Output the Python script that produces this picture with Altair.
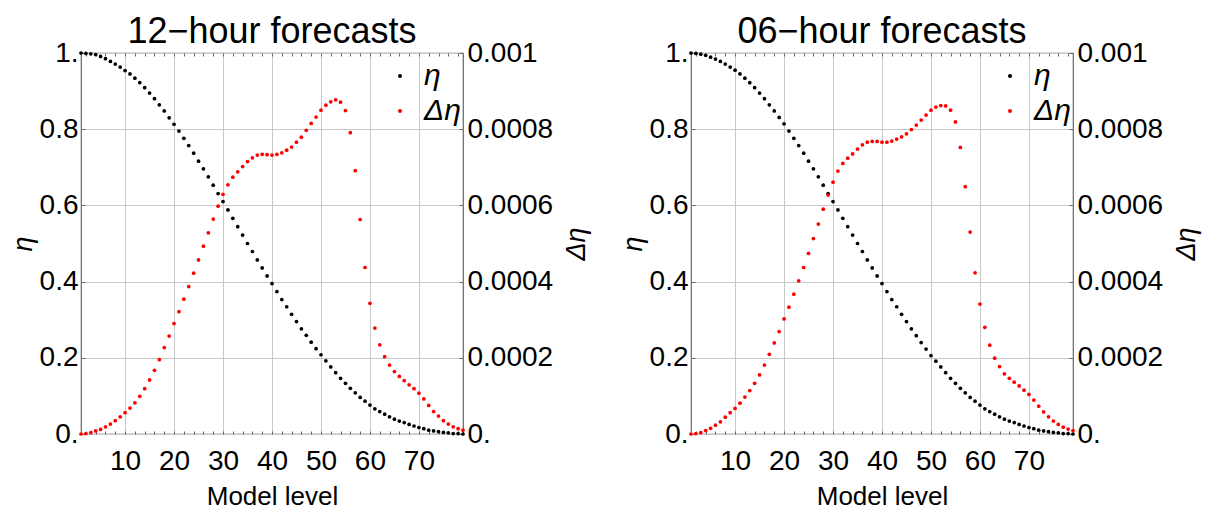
import altair as alt
import pandas as pd

levels = list(range(1, 80))

eta12 = [1.000, 0.999, 0.998, 0.996, 0.991, 0.985, 0.978, 0.971, 0.963, 0.954,
         0.945, 0.934, 0.922, 0.909, 0.895, 0.880, 0.864, 0.848, 0.830, 0.813,
         0.795, 0.776, 0.757, 0.737, 0.716, 0.696, 0.675, 0.653, 0.631, 0.610,
         0.588, 0.566, 0.544, 0.522, 0.500, 0.479, 0.457, 0.436, 0.415, 0.395,
         0.374, 0.353, 0.334, 0.314, 0.295, 0.276, 0.259, 0.241, 0.224, 0.208,
         0.192, 0.176, 0.161, 0.146, 0.133, 0.120, 0.108, 0.096, 0.086, 0.076,
         0.066, 0.059, 0.052, 0.045, 0.039, 0.034, 0.030, 0.025, 0.021, 0.017,
         0.014, 0.010, 0.008, 0.006, 0.004, 0.003, 0.001, 0.001, 0.000]

# Delta eta, in units of 1e-4
deta12_e4 = [0.00, 0.01, 0.035, 0.08, 0.12, 0.19, 0.26, 0.35, 0.45, 0.56,
             0.68, 0.82, 0.99, 1.19, 1.42, 1.67, 1.95, 2.27, 2.57, 2.90,
             3.21, 3.54, 3.87, 4.22, 4.57, 4.93, 5.28, 5.64, 5.98, 6.29,
             6.54, 6.74, 6.88, 7.02, 7.15, 7.25, 7.32, 7.34, 7.33, 7.32,
             7.34, 7.38, 7.45, 7.53, 7.66, 7.79, 7.97, 8.15, 8.32, 8.50,
             8.63, 8.72, 8.77, 8.71, 8.49, 7.91, 6.91, 5.63, 4.37, 3.43,
             2.78, 2.34, 2.03, 1.81, 1.64, 1.51, 1.40, 1.29, 1.19, 1.07,
             0.92, 0.75, 0.59, 0.47, 0.35, 0.26, 0.19, 0.14, 0.10]

eta06 = [1.000, 0.999, 0.997, 0.994, 0.989, 0.984, 0.978, 0.971, 0.963, 0.955,
         0.945, 0.934, 0.922, 0.909, 0.895, 0.880, 0.864, 0.848, 0.831, 0.814,
         0.795, 0.776, 0.757, 0.737, 0.716, 0.696, 0.675, 0.653, 0.631, 0.610,
         0.588, 0.566, 0.544, 0.522, 0.500, 0.479, 0.457, 0.436, 0.415, 0.395,
         0.374, 0.353, 0.334, 0.314, 0.295, 0.276, 0.258, 0.240, 0.223, 0.206,
         0.191, 0.176, 0.161, 0.146, 0.133, 0.120, 0.108, 0.096, 0.086, 0.076,
         0.066, 0.059, 0.052, 0.045, 0.039, 0.034, 0.030, 0.025, 0.021, 0.017,
         0.014, 0.010, 0.008, 0.006, 0.004, 0.003, 0.001, 0.001, 0.000]

deta06_e4 = [0.00, 0.01, 0.035, 0.09, 0.15, 0.23, 0.32, 0.44, 0.56, 0.67,
             0.81, 0.97, 1.14, 1.33, 1.55, 1.81, 2.09, 2.39, 2.69, 3.02,
             3.33, 3.67, 4.02, 4.37, 4.74, 5.13, 5.51, 5.90, 6.27, 6.61,
             6.90, 7.10, 7.24, 7.35, 7.48, 7.59, 7.66, 7.68, 7.68, 7.66,
             7.66, 7.69, 7.74, 7.80, 7.88, 7.99, 8.11, 8.24, 8.37, 8.50,
             8.58, 8.62, 8.61, 8.50, 8.19, 7.52, 6.49, 5.30, 4.23, 3.41,
             2.80, 2.33, 1.99, 1.77, 1.58, 1.46, 1.36, 1.26, 1.15, 1.04,
             0.89, 0.73, 0.58, 0.45, 0.34, 0.25, 0.18, 0.13, 0.09]

titles = ["12\u2212hour forecasts", "06\u2212hour forecasts"]
series_names = ["\u03b7", "\u0394\u03b7"]
series_colors = ["#000000", "#ff0000"]
x_tick_values = list(range(2, 79, 2))
y_left_values = [0, 0.2, 0.4, 0.6, 0.8, 1.0]
y_right_values = [0, 0.0002, 0.0004, 0.0006, 0.0008, 0.001]

FONT = "Liberation Sans"
FRAME = "#666666"
LABEL_FS = 28


def panel(title, eta, deta_e4):
    d_eta = pd.DataFrame({"level": levels, "value": eta, "series": series_names[0]})
    d_deta = pd.DataFrame({"level": levels, "value": [v * 1e-4 for v in deta_e4],
                           "series": series_names[1]})
    color = alt.Color("series:N",
                      scale=alt.Scale(domain=series_names, range=series_colors),
                      legend=alt.Legend(title=None, orient="none", legendX=304, legendY=8,
                                        symbolType="circle", symbolSize=16,
                                        labelFontSize=30, labelFont=FONT,
                                        labelFontStyle="italic", labelColor="black",
                                        rowPadding=5, labelOffset=9))
    xscale = alt.Scale(domain=[1, 79], nice=False, zero=False)
    black = alt.Chart(d_eta).mark_circle(size=14, opacity=1).encode(
        x=alt.X("level:Q", scale=xscale,
                axis=alt.Axis(orient="bottom", values=x_tick_values, title="Model level",
                              labelExpr="datum.value % 10 === 0 ? datum.label : ''",
                              grid=True, gridColor="#c8c8c8",
                              gridOpacity={"condition": {"test": "datum.value % 10 !== 0", "value": 0}, "value": 1},
                              tickSize={"expr": "-3"}, tickColor=FRAME, domain=False,
                              labelFontSize=LABEL_FS, labelFont=FONT, labelColor="black",
                              labelPadding=16, labelFlush=False, labelOverlap=False,
                              titleFontSize=26, titleFont=FONT, titleFontWeight="normal",
                              titleColor="black", titlePadding=8)),
        y=alt.Y("value:Q", scale=alt.Scale(domain=[0, 1], nice=False),
                axis=alt.Axis(orient="left", values=y_left_values, title="\u03b7",
                              labelExpr="datum.value == 0 ? '0.' : datum.value == 1 ? '1.' : format(datum.value, '.1f')",
                              grid=True, gridColor="#c8c8c8",
                              tickSize={"expr": "-4"}, tickColor=FRAME, domain=False,
                              labelFontSize=LABEL_FS, labelFont=FONT, labelColor="black",
                              labelPadding=7, labelFlush=False, labelOverlap=False,
                              titleFontSize=27, titleFont=FONT, titleFontWeight="normal",
                              titleFontStyle="italic", titleColor="black", titlePadding=2)),
        color=color,
    )
    red = alt.Chart(d_deta).mark_circle(size=14, opacity=1).encode(
        x=alt.X("level:Q", scale=xscale,
                axis=alt.Axis(orient="top", values=x_tick_values, title=None, labels=False,
                              grid=False, tickSize={"expr": "-3"}, tickColor=FRAME,
                              domain=False)),
        y=alt.Y("value:Q", scale=alt.Scale(domain=[0, 0.001], nice=False),
                axis=alt.Axis(orient="right", values=y_right_values, title="\u0394\u03b7",
                              labelExpr="datum.value == 0 ? '0.' : datum.value > 0.00095 ? '0.001' : format(datum.value, '.4f')",
                              grid=False, tickSize={"expr": "-4"}, tickColor=FRAME,
                              domain=False,
                              labelFontSize=LABEL_FS, labelFont=FONT, labelColor="black",
                              labelPadding=8, labelFlush=False, labelOverlap=False,
                              titleFontSize=27, titleFont=FONT, titleFontWeight="normal",
                              titleFontStyle="italic", titleColor="black", titleAngle=270,
                              titleBaseline="top", titlePadding=11)),
        color=color,
    )
    return alt.layer(black, red).resolve_scale(y="independent", x="independent").resolve_axis(
        x="independent").properties(
        width=382, height=381,
        title=alt.TitleParams(title, fontSize=36, font=FONT, fontWeight="normal",
                              color="black", anchor="middle", frame="group", offset=-12),
    )


chart = alt.hconcat(panel(titles[0], eta12, deta12_e4),
                    panel(titles[1], eta06, deta06_e4), spacing=27).resolve_scale(
    color="independent").resolve_legend(color="independent").properties(
    padding={"left": 0, "top": 5, "right": 2, "bottom": 0}
).configure_view(stroke=FRAME, strokeWidth=1.2)

chart.save("out.html", embed_options={"renderer": "svg", "actions": False})
